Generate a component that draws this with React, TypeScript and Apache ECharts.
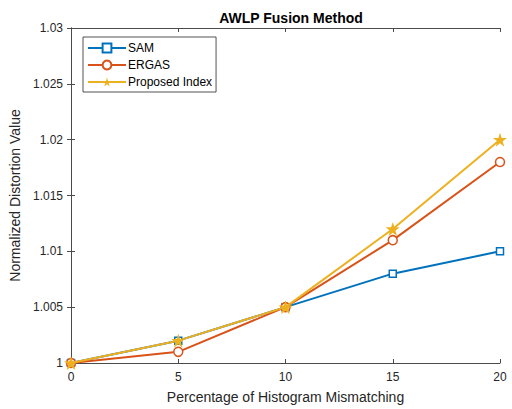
import React, { useEffect, useRef } from "react";
import * as echarts from "echarts";

const xValues = [0, 5, 10, 15, 20];
const samValues = [1.0, 1.002, 1.005, 1.008, 1.01];
const ergasValues = [1.0, 1.001, 1.005, 1.011, 1.018];
const proposedValues = [1.0, 1.002, 1.005, 1.012, 1.02];
const seriesNames = ["SAM", "ERGAS", "Proposed Index"];

const STAR =
  "path://M50,0 L61.8,36.2 L100,36.2 L69.1,58.8 L80.9,95.1 L50,72.4 L19.1,95.1 L30.9,58.8 L0,36.2 L38.2,36.2 Z";

const FONT = "Liberation Sans, Arial, Helvetica, sans-serif";
const AX = "#262626";
const AXLINE = "#4a4a4a";

export default function App() {
  const ref = useRef<HTMLDivElement>(null);
  useEffect(() => {
    if (!ref.current) return;
    const chart = echarts.init(ref.current, undefined, { renderer: "svg" });
    const pair = (vals: number[]) => xValues.map((x, i) => [x, vals[i]]);
    const axisCommon = {
      axisLine: { show: true, lineStyle: { color: AXLINE, width: 1 } },
      axisTick: { show: true, inside: true, length: 4, lineStyle: { color: AXLINE } },
      splitLine: { show: false },
    };
    chart.setOption({
      animation: false,
      backgroundColor: "#ffffff",
      textStyle: { fontFamily: FONT },
      title: {
        text: "AWLP Fusion Method",
        left: 286,
        textAlign: "center",
        top: 6,
        textStyle: { fontSize: 14, fontWeight: "bold", color: "#000", fontFamily: FONT },
      },
      grid: { left: 71, right: 12, top: 28, bottom: 45, containLabel: false },
      legend: {
        orient: "vertical",
        left: 83,
        top: 37,
        itemWidth: 38,
        itemHeight: 11,
        itemGap: 5,
        padding: [5, 4, 4, 4],
        borderColor: AX,
        borderWidth: 0.8,
        backgroundColor: "#fff",
        textStyle: { fontSize: 12, color: "#000", fontFamily: FONT, padding: [0, 0, 0, -3] },
        data: seriesNames,
      },
      xAxis: [
        {
          type: "value",
          min: 0,
          max: 20,
          interval: 5,
          name: "Percentage of Histogram Mismatching",
          nameLocation: "middle",
          nameGap: 27,
          nameTextStyle: { fontSize: 14, color: AX, fontFamily: FONT },
          axisLabel: { fontSize: 12, color: AX, margin: 8, fontFamily: FONT },
          ...axisCommon,
        },
        {
          type: "value",
          position: "top",
          min: 0,
          max: 20,
          interval: 5,
          axisLabel: { show: false },
          ...axisCommon,
        },
      ],
      yAxis: [
        {
          type: "value",
          min: 1,
          max: 1.03,
          interval: 0.005,
          name: "Normalized Distortion Value",
          nameLocation: "middle",
          nameGap: 44,
          nameTextStyle: { fontSize: 14, color: AX, fontFamily: FONT },
          axisLabel: {
            fontSize: 12,
            color: AX,
            margin: 8,
            fontFamily: FONT,
            formatter: (v: number) => String(parseFloat(v.toFixed(3))),
          },
          ...axisCommon,
        },
        {
          type: "value",
          position: "right",
          min: 1,
          max: 1.03,
          interval: 0.005,
          axisLabel: { show: false },
          ...axisCommon,
        },
      ],
      series: [
        {
          name: seriesNames[0],
          type: "line",
          data: pair(samValues),
          symbol: "rect",
          symbolSize: 7,
          z: 3,
          lineStyle: { color: "#0072BD", width: 2 },
          itemStyle: { color: "#ffffff", borderColor: "#0072BD", borderWidth: 1.5 },
        },
        {
          name: seriesNames[1],
          type: "line",
          data: pair(ergasValues),
          symbol: "circle",
          symbolSize: 9,
          z: 4,
          lineStyle: { color: "#D95319", width: 2 },
          itemStyle: { color: "#ffffff", borderColor: "#D95319", borderWidth: 1.5 },
        },
        {
          name: seriesNames[2],
          type: "line",
          data: pair(proposedValues),
          symbol: STAR,
          symbolSize: 14,
          z: 5,
          lineStyle: { color: "#EDB120", width: 2 },
          itemStyle: { color: "#EDB120", borderColor: "#EDB120", borderWidth: 0 },
        },
      ],
    });
    return () => chart.dispose();
  }, []);
  return (
    <div
      ref={ref}
      style={{ position: "fixed", left: 0, top: 0, width: 512, height: 409 }}
    />
  );
}
